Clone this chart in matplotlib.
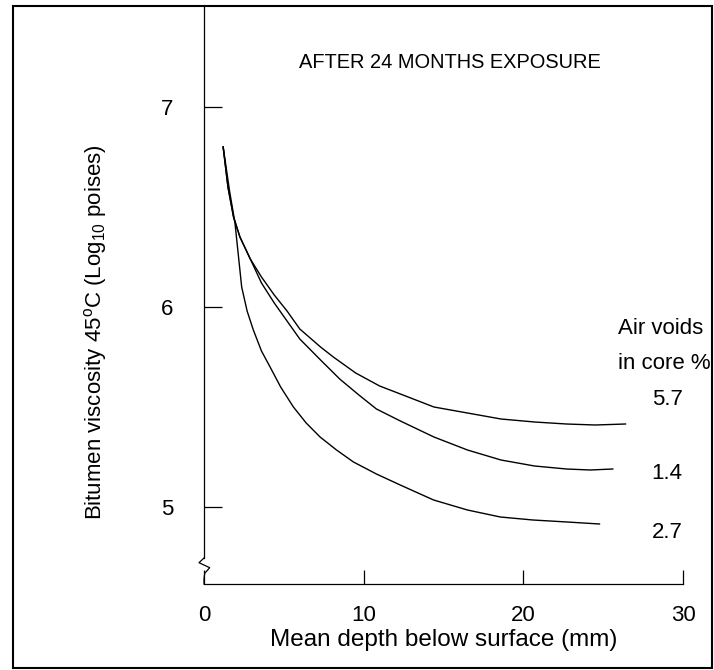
import matplotlib
matplotlib.use("Agg")
import matplotlib.pyplot as plt
from matplotlib.patches import Rectangle

plt.rcParams['font.family'] = ['Liberation Sans', 'DejaVu Sans']
plt.rcParams['mathtext.fontset'] = 'custom'
plt.rcParams['mathtext.rm'] = 'Liberation Sans'
plt.rcParams['mathtext.it'] = 'Liberation Sans:italic'

# ---- data ----
depth_57 = [1.2, 1.5, 1.85, 2.25, 2.9, 3.6, 4.4, 5.2, 6.0, 7.3, 8.1, 9.5, 11.0, 12.3,
            14.4, 16.5, 18.6, 20.7, 22.7, 24.5, 26.4]
visc_57 = [6.80, 6.60, 6.45, 6.35, 6.24, 6.15, 6.06, 5.98, 5.89, 5.80, 5.75, 5.67, 5.605,
           5.565, 5.50, 5.47, 5.44, 5.425, 5.415, 5.41, 5.415]

depth_14 = [1.2, 1.5, 1.85, 2.25, 2.9, 3.6, 4.4, 5.2, 6.0, 7.3, 8.5, 9.7, 10.8, 12.3,
            14.4, 16.5, 18.6, 20.7, 22.7, 24.2, 25.6]
visc_14 = [6.80, 6.60, 6.45, 6.35, 6.24, 6.12, 6.02, 5.93, 5.84, 5.735, 5.64, 5.56, 5.49,
           5.43, 5.35, 5.285, 5.235, 5.205, 5.19, 5.185, 5.19]

depth_27 = [1.2, 1.6, 1.94, 2.36, 2.7, 3.09, 3.6, 4.14, 4.8, 5.6, 6.4, 7.27, 8.3, 9.36,
            10.8, 12.29, 14.38, 16.5, 18.56, 20.6, 22.74, 24.77]
visc_27 = [6.80, 6.58, 6.42, 6.10, 5.98, 5.885, 5.78, 5.70, 5.60, 5.50, 5.42, 5.35, 5.285,
           5.225, 5.165, 5.11, 5.035, 4.985, 4.95, 4.935, 4.925, 4.915]

series_labels = ["5.7", "1.4", "2.7"]
x_ticks = [0, 10, 20, 30]
y_ticks = [5, 6, 7]

title = "AFTER 24 MONTHS EXPOSURE"
xlabel = "Mean depth below surface (mm)"
ylabel = r"Bitumen viscosity 45$^{\mathrm{o}}$C (Log$_{\mathrm{10}}$ poises)"
legend_title = ["Air voids", "in core %"]

# ---- figure ----
fig = plt.figure(figsize=(7.14, 6.70), dpi=100)
ax = fig.add_axes([204/714, (670-584)/670, (683-204)/714, (584-6)/670])

for d, v in [(depth_57, visc_57), (depth_14, visc_14), (depth_27, visc_27)]:
    ax.plot(d, v, color='black', lw=1.0)

ax.set_xlim(0, 30)
ax.set_ylim(4.615, 7.505)
ax.set_xticks(x_ticks)
ax.set_yticks(y_ticks)
ax.tick_params(axis='y', direction='in', length=13, width=0.9, pad=22, labelsize=16)
ax.tick_params(axis='x', direction='in', length=10, width=0.9, pad=15, labelsize=16)

for s in ['top', 'right', 'left']:
    ax.spines[s].set_visible(False)
ax.spines['bottom'].set_linewidth(0.9)

# y axis line with break
tr = ax.get_yaxis_transform()
ax.plot([0, 0], [4.745, 7.505], color='black', lw=0.9, transform=tr, clip_on=False)
ax.plot([0, -0.0104, 0.0119, 0.0015, 0.0, 0.0],
        [4.745, 4.7215, 4.6965, 4.6685, 4.64, 4.615],
        color='black', lw=0.9, transform=tr, clip_on=False)

ax.set_xlabel(xlabel, fontsize=17.5, va='center')
ax.xaxis.set_label_coords(0.5, -0.097)
ax.set_ylabel(ylabel, fontsize=16, va='center')
ax.yaxis.set_label_coords(-0.227, 0.436)

ax.text(15.4, 7.22, title, fontsize=14.4, ha='center', va='center')

ax.text(25.96, 5.895, legend_title[0], fontsize=16, ha='left', va='center')
ax.text(25.96, 5.715, legend_title[1], fontsize=16, ha='left', va='center')
label_y = [5.535, 5.165, 4.87]
for lab, yy in zip(series_labels, label_y):
    ax.text(29.0, yy, lab, fontsize=16, ha='center', va='center')

fig.patches.append(Rectangle((13/714, 2/670), (712-13)/714, (668-6)/670,
                             transform=fig.transFigure, fill=False,
                             edgecolor='black', lw=1.5))

fig.savefig("out.png", dpi=100)
